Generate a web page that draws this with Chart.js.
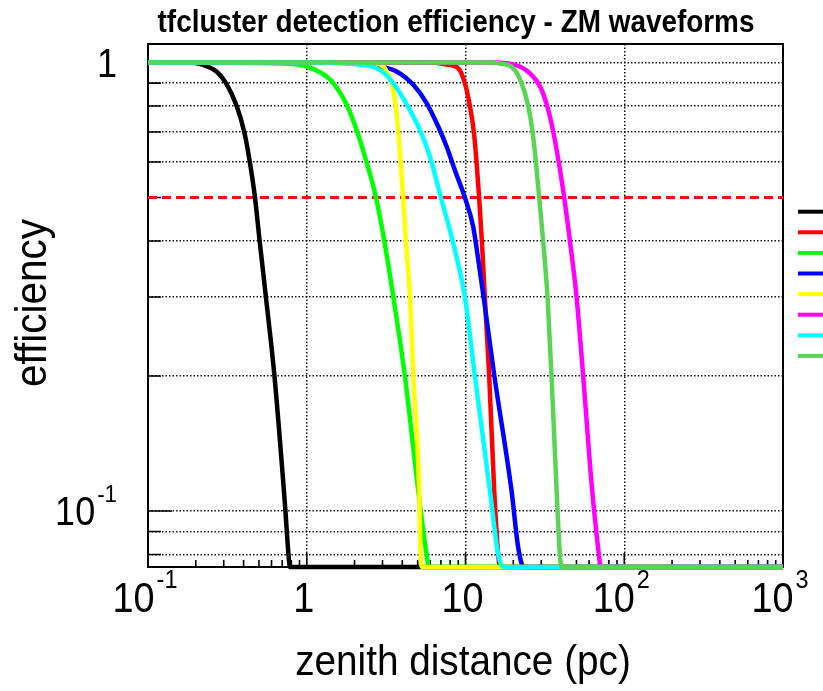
<!DOCTYPE html>
<html>
<head>
<meta charset="utf-8">
<script src="https://cdn.jsdelivr.net/npm/chart.js@4.4.1/dist/chart.umd.min.js"></script>
<style>
html,body{margin:0;padding:0;background:#ffffff;}
#wrap{width:823px;height:691px;position:relative;}
canvas{display:block;}
</style>
</head>
<body>
<div id="wrap"><canvas id="c" width="823" height="691"></canvas></div>
<script>
// ---------- text ----------
const chartTitle = 'tfcluster detection efficiency - ZM waveforms';
const xAxisTitle = 'zenith distance (pc)';
const yAxisTitle = 'efficiency';

// ---------- axes ----------
const xRange = [0.1, 1000];
const yRange = [0.075, 1.1];
const xTickValues = [0.1, 1, 10, 100, 1000];
const xTickBase   = ['10', '1', '10', '10', '10'];
const xTickExp    = ['-1', '',  '',   '2',  '3'];
const yTickValues = [0.1, 1];
const yTickBase   = ['10', '1'];
const yTickExp    = ['-1', ''];
const yGridValues = [0.08, 0.09, 0.1, 0.2, 0.3, 0.4, 0.5, 0.6, 0.7, 0.8, 0.9, 1];
const xMinorValues = [0.2,0.3,0.4,0.5,0.6,0.7,0.8,0.9, 2,3,4,5,6,7,8,9, 20,30,40,50,60,70,80,90, 200,300,400,500,600,700,800,900];
const threshold = 0.5;

// ---------- series (distance in pc, efficiency) ----------
const seriesNames  = ['waveform 1','waveform 2','waveform 3','waveform 4','waveform 5','waveform 6','waveform 7','waveform 8'];
const seriesColors = ['#000000','#ff0000','#00ff00','#0000ff','#ffff00','#ff00ff','#00ffff','#59d454'];

const distBlack = [0.1, 0.18, 0.223, 0.27, 0.31, 0.362, 0.404, 0.438, 0.472, 0.505, 0.553, 0.626, 0.718, 0.734, 0.767, 0.783, 1000];
const effBlack  = [1,   1,    0.988, 0.955, 0.9, 0.8,  0.7,   0.6,   0.5,   0.4,   0.3,   0.2,   0.111, 0.1,   0.08,  0,     0];

const distRed = [0.1, 5.97, 7.6, 8.99, 9.91, 10.66, 11.29, 11.74, 12.19, 12.68, 13.24, 14.10, 15.17, 16.07, 16.48, 1000];
const effRed  = [1,   1,    0.99, 0.972, 0.9, 0.8,   0.7,   0.6,   0.5,   0.4,   0.3,   0.2,   0.111, 0.08,  0,     0];

const distGreen = [0.1, 0.71, 1.0, 1.24, 1.47, 1.80, 2.08, 2.38, 2.73, 3.08, 3.51, 4.15, 5.04, 5.6, 5.91, 1000];
const effGreen  = [1,   0.995, 0.98, 0.947, 0.9, 0.8, 0.7, 0.6, 0.5, 0.4, 0.3, 0.2, 0.111, 0.083, 0, 0];

const distBlue = [0.1, 1.2, 1.96, 2.89, 3.68, 4.69, 5.69, 6.73, 7.60, 8.70, 9.91, 11.17, 12.0, 13.0, 15.2, 19.5, 21.47, 23.3, 1000];
const effBlue  = [1,   1,   0.995, 0.98, 0.955, 0.892, 0.812, 0.72, 0.65, 0.567, 0.5, 0.431, 0.366, 0.3, 0.2, 0.111, 0.083, 0, 0];

const distYellow = [0.1, 2.0, 2.73, 3.11, 3.42, 3.63, 3.77, 3.90, 4.05, 4.21, 4.47, 4.69, 5.11, 5.21, 5.34, 1000];
const effYellow  = [1,   1,   0.995, 0.97, 0.9, 0.8, 0.7, 0.6, 0.5, 0.4, 0.3, 0.2, 0.111, 0.08, 0, 0];

const distMagenta = [0.1, 15, 18.2, 22.0, 25.4, 29.4, 32.4, 34.8, 37.5, 41.2, 45.4, 50.07, 55.11, 62.8, 69.2, 70.9, 1000];
const effMagenta  = [1,   1,  0.997, 0.98, 0.947, 0.887, 0.809, 0.732, 0.639, 0.52, 0.402, 0.3, 0.2, 0.111, 0.08, 0, 0];

const distCyan = [0.1, 1.0, 1.96, 2.89, 3.51, 4.28, 5.16, 5.97, 7.0, 8.30, 9.91, 11.46, 14.25, 16.07, 17.27, 1000];
const effCyan  = [1,   1,   0.993, 0.963, 0.899, 0.805, 0.708, 0.617, 0.5, 0.4, 0.3, 0.2, 0.111, 0.08, 0, 0];

const distLightGreen = [0.1, 14, 16.48, 19.96, 22.56, 24.83, 26.47, 27.75, 29.12, 30.83, 32.85, 34.83, 37.5, 39.3, 40.3, 1000];
const effLightGreen  = [1,   1,  0.995, 0.972, 0.9,   0.8,   0.7,   0.6,   0.5,   0.4,   0.3,   0.2,   0.111, 0.08, 0, 0];

const seriesDist = [distBlack, distRed, distGreen, distBlue, distYellow, distMagenta, distCyan, distLightGreen];
const seriesEff  = [effBlack, effRed, effGreen, effBlue, effYellow, effMagenta, effCyan, effLightGreen];

// ---------- build datasets ----------
const nSeries = seriesNames.length;
const datasets = seriesNames.map((name, i) => ({
  label: name,
  // zero efficiency sits on the axis floor of the log scale
  data: seriesDist[i].map((d, j) => ({ x: d, y: Math.max(seriesEff[i][j], yRange[0]) })),
  borderColor: seriesColors[i],
  backgroundColor: seriesColors[i],
  borderWidth: 4.5,
  pointRadius: 0,
  fill: false,
  cubicInterpolationMode: 'monotone',
  borderCapStyle: 'butt',
  borderJoinStyle: 'round',
  clip: 6,
  order: nSeries - i
}));
datasets.push({
  label: 'threshold',
  data: [{ x: xRange[0], y: threshold }, { x: xRange[1], y: threshold }],
  borderColor: '#ee1111',
  borderWidth: 3,
  borderDash: [9, 5],
  pointRadius: 0,
  fill: false,
  order: nSeries + 1,
  isThreshold: true
});

const FONT = '"Liberation Sans", Arial, Helvetica, sans-serif';
const SX = 0.9; // slight horizontal condensation of the reference lettering

function drawText(ctx, str, x, y, size, weight, align) {
  ctx.save();
  ctx.font = `${weight} ${size}px ${FONT}`;
  ctx.translate(x, y);
  ctx.scale(SX, 1);
  ctx.textAlign = align;
  ctx.textBaseline = 'alphabetic';
  ctx.fillStyle = '#000';
  ctx.fillText(str, 0, 0);
  ctx.restore();
}
function drawPower(ctx, base, exp, x, y, size, align) {
  const es = size * 0.62;
  ctx.save();
  ctx.font = `normal ${size}px ${FONT}`;
  const wb = ctx.measureText(base).width * SX;
  ctx.font = `normal ${es}px ${FONT}`;
  const we = exp ? ctx.measureText(exp).width * SX + 2 : 0;
  ctx.restore();
  const total = wb + we;
  let left = x;
  if (align === 'center') left = x - total / 2;
  else if (align === 'right') left = x - total;
  drawText(ctx, base, left, y, size, 'normal', 'left');
  if (exp) drawText(ctx, exp, left + wb + 2, y - size * 0.58, es, 'normal', 'left');
}

const framePlugin = {
  id: 'framePlugin',
  beforeDatasetsDraw(chart) {
    const { ctx, chartArea: a, scales: { x, y } } = chart;
    ctx.save();
    ctx.strokeStyle = '#000';
    ctx.lineWidth = 2;
    ctx.strokeRect(a.left, a.top, a.right - a.left, a.bottom - a.top);
    ctx.lineWidth = 1.6;
    ctx.beginPath();
    xMinorValues.forEach(v => {
      const px = x.getPixelForValue(v);
      ctx.moveTo(px, a.bottom); ctx.lineTo(px, a.bottom - 7);
    });
    xTickValues.forEach(v => {
      const px = x.getPixelForValue(v);
      ctx.moveTo(px, a.bottom); ctx.lineTo(px, a.bottom - 14);
    });
    yGridValues.forEach(v => {
      const py = y.getPixelForValue(v);
      const len = yTickValues.includes(v) ? 24 : 13;
      ctx.moveTo(a.left, py); ctx.lineTo(a.left + len, py);
    });
    ctx.stroke();
    ctx.restore();
  },
  afterDraw(chart) {
    const { ctx, chartArea: a, scales: { x, y } } = chart;
    // title
    drawText(ctx, chartTitle, 456, 32, 31, 'bold', 'center');
    // x tick labels
    xTickValues.forEach((v, i) => {
      drawPower(ctx, xTickBase[i], xTickExp[i], x.getPixelForValue(v) - 3, 612, 42, 'center');
    });
    // y tick labels
    yTickValues.forEach((v, i) => {
      const py = y.getPixelForValue(v);
      drawPower(ctx, yTickBase[i], yTickExp[i], 117, py + 40 * 0.36, 40, 'right');
    });
    // axis titles
    drawText(ctx, xAxisTitle, 463, 675, 43, 'normal', 'center');
    ctx.save();
    ctx.translate(46, 303);
    ctx.rotate(-Math.PI / 2);
    drawText(ctx, yAxisTitle, 0, 0, 45, 'normal', 'center');
    ctx.restore();
    // legend line samples (legend text is outside the visible canvas)
    ctx.save();
    ctx.lineWidth = 4;
    chart.data.datasets.forEach((ds, i) => {
      if (ds.isThreshold) return;
      const ly = 211.7 + 20.6 * i;
      ctx.strokeStyle = ds.borderColor;
      ctx.beginPath();
      ctx.moveTo(798, ly); ctx.lineTo(830, ly);
      ctx.stroke();
    });
    ctx.restore();
  }
};

new Chart(document.getElementById('c'), {
  type: 'line',
  data: { datasets },
  options: {
    responsive: false,
    animation: false,
    devicePixelRatio: 1,
    layout: { padding: { left: 148, top: 44, right: 40, bottom: 124 } },
    plugins: { legend: { display: false }, title: { display: false }, tooltip: { enabled: false } },
    scales: {
      x: {
        type: 'logarithmic',
        min: xRange[0], max: xRange[1],
        ticks: { display: false },
        grid: { color: '#111', lineWidth: 1.5, drawTicks: false },
        border: { display: false, dash: [1.5, 2] },
        afterBuildTicks: s => { s.ticks = xTickValues.map(v => ({ value: v })); }
      },
      y: {
        type: 'logarithmic',
        min: yRange[0], max: yRange[1],
        ticks: { display: false },
        grid: { color: ctx => (ctx.tick && ctx.tick.value === threshold) ? 'rgba(0,0,0,0)' : '#111', lineWidth: 1.5, drawTicks: false },
        border: { display: false, dash: [1.5, 2] },
        afterBuildTicks: s => { s.ticks = yGridValues.map(v => ({ value: v })); }
      }
    }
  },
  plugins: [framePlugin]
});
</script>
</body>
</html>
